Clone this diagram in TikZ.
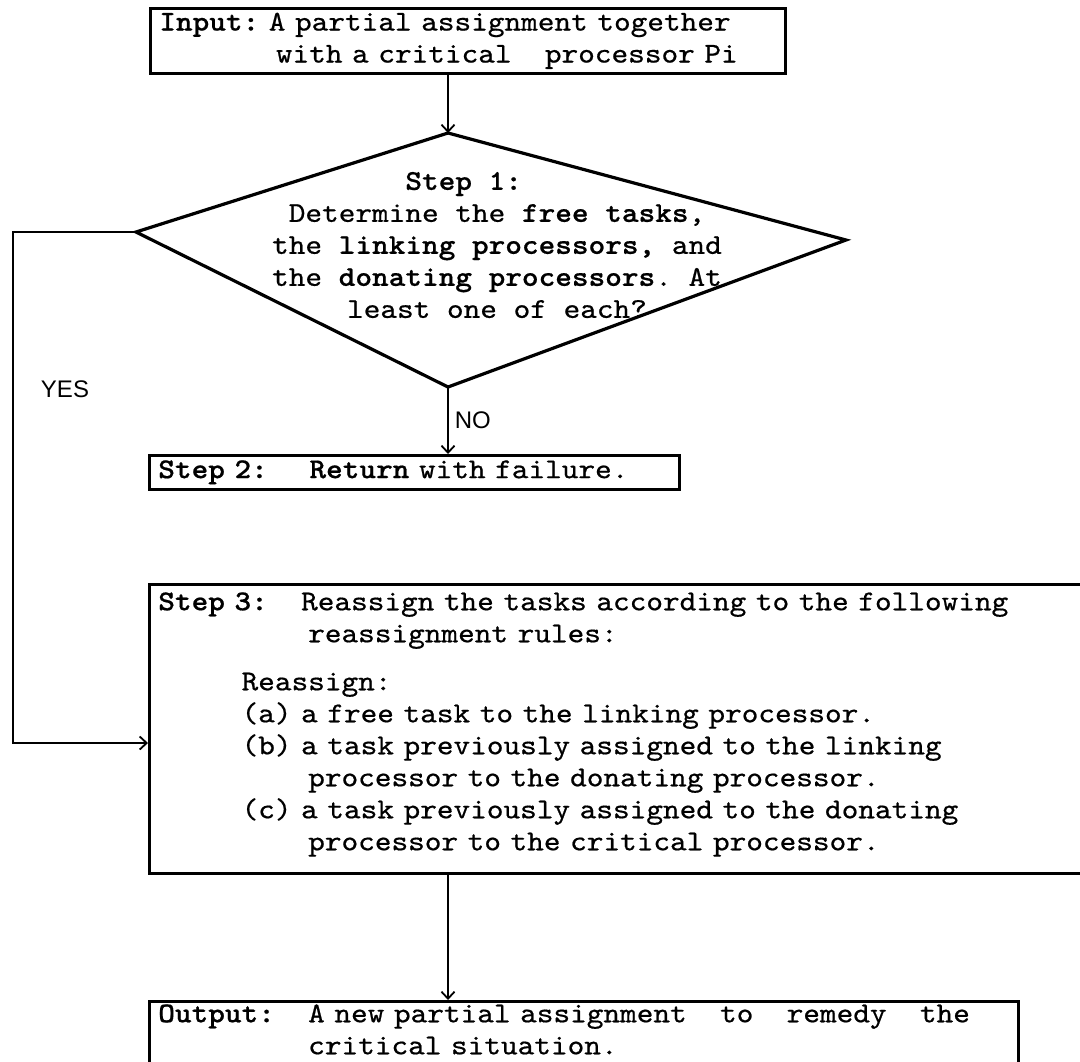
\documentclass[tikz,border=0pt]{standalone}
\usepackage{fontspec}
\newfontfamily\tw{lmmono10-regular}[Extension=.otf, BoldFont=lmmonolt10-bold,
  FakeStretch=1.104, FakeBold=0.6]
\newfontfamily\tagfont{Liberation Sans}
\usetikzlibrary{arrows.meta}
\frenchspacing
% blank columns of the typewriter text
\newcommand{\pad}[1]{\hspace*{#1\fontcharwd\font`\M}}
% extra depth under a last line
\newcommand{\sink}[1]{\rule[-#1]{0pt}{0pt}}

\begin{document}
\begin{tikzpicture}[x=0.5pt, y=-0.5pt,
  >={Straight Barb[length=3.5pt,width=6.5pt]},
  box/.style={rectangle, draw, line width=1.3pt, anchor=north west,
              inner xsep=4.5pt, inner ysep=0pt, align=left,
              font=\tw\fontsize{14.37}{16}\selectfont},
  decision/.style={line width=1.6pt, line join=miter},
  txt/.style={align=center, font=\tw\fontsize{14.37}{16}\selectfont},
  arr/.style={->, line width=0.9pt},
  tag/.style={font=\tagfont\fontsize{12}{12}\selectfont, inner sep=1pt}
]
\fill[white] (0,0) rectangle (1080,1061);
\useasboundingbox (0,0) rectangle (1080,1061);
\clip (0,0) rectangle (1080,1061);

%% ---- Input ----
\node[box, minimum width=317.5pt, minimum height=32.5pt, text width=308.5pt]
  (input) at (149,7)
  {\textbf{Input:} A partial assignment together\\
   \pad{7}with a critical\pad{2}processor Pi};

%% ---- Step 1 (decision) ----
\coordinate (dtop)   at (448,133);
\coordinate (dright) at (846,240);
\coordinate (dbot)   at (448,387);
\coordinate (dleft)  at (136,232);
\draw[decision] (dtop) -- (dright) -- (dbot) -- (dleft) -- cycle;
\node[txt] (step1) at (497,245)
  {\textbf{Step 1:}\pad{4}\\
   Determine the \textbf{free tasks},\\
   the \textbf{linking processors,} and\\
   the \textbf{donating processors}. At\\
   least one of each?};

%% ---- Step 2 ----
\node[box, minimum width=265pt, minimum height=17pt, text width=256pt]
  (fail) at (148,454)
  {\textbf{Step 2:}\pad{2.5}\textbf{Return} with failure.};

%% ---- Step 3 ----
\node[box, minimum width=475pt, minimum height=144.5pt, text width=466pt]
  (reassign) at (148,583)
  {\textbf{Step 3:}\pad{2}Reassign the tasks according to the following\\
   \pad{9}reassignment rules:\\[8pt]
   \pad{5}Reassign:\\
   \pad{5}(a) a free task to the linking processor.\\
   \pad{5}(b) a task previously assigned to the linking\\
   \pad{9}processor to the donating processor.\\
   \pad{5}(c) a task previously assigned to the donating\\
   \pad{9}processor to the critical processor.\sink{7.5pt}};

%% ---- Output ----
\node[box, minimum width=434.5pt, minimum height=33pt, text width=425.5pt]
  (output) at (148,1000)
  {\textbf{Output:}\pad{2}A new partial assignment\pad{2}to\pad{2}remedy\pad{2}the\\
   \pad{9}critical situation.\sink{5pt}};

%% ---- Arrows ----
\draw[arr] (input.south -| dtop) -- (dtop);
\draw[arr] (dbot) -- node[tag, right=2pt] {NO} (fail.north -| dbot);
\coordinate (ybend) at (13,743);
\draw[arr] (dleft) -| (ybend) -- (ybend -| reassign.west);
\node[tag] (yes) at (65,389) {YES};
\draw[arr] (reassign.south -| dbot) -- (output.north -| dbot);

\end{tikzpicture}
\end{document}
